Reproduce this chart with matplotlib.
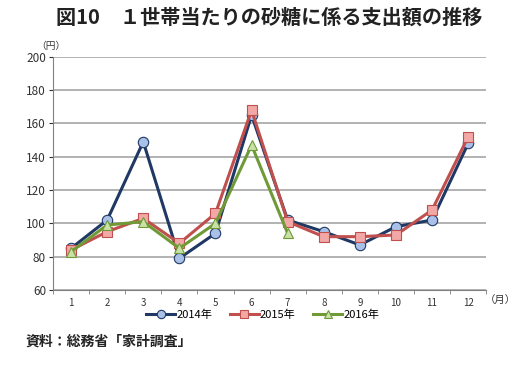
import matplotlib
matplotlib.use("Agg")
import matplotlib.pyplot as plt
from matplotlib.ticker import FixedLocator

plt.rcParams['font.family'] = ['Noto Sans CJK JP', 'DejaVu Sans']

months = [1, 2, 3, 4, 5, 6, 7, 8, 9, 10, 11, 12]
v2014 = [85, 102, 149, 79, 94, 165, 102, 95, 87, 98, 102, 148]
v2015 = [84, 95, 103, 88, 106, 168, 101, 92, 92, 93, 108, 152]
months2016 = [1, 2, 3, 4, 5, 6, 7]
v2016 = [83, 99, 101, 85, 100, 147, 94]
yticks = [60, 80, 100, 120, 140, 160, 180, 200]

fig = plt.figure(figsize=(5.2, 3.67), dpi=100)
ax = fig.add_axes([0.102, 0.21, 0.833, 0.635])

ax.plot(months, v2015, color="#C0504D", lw=2.2, marker="s", ms=7.5,
        mfc="#F2A8A6", mec="#C0504D", mew=0.8, label="2015年", zorder=3)
ax.plot(months2016, v2016, color="#6F9A36", lw=2.2, marker="^", ms=7.5,
        mfc="#C9E0A6", mec="#6F9A36", mew=0.8, label="2016年", zorder=4)
ax.plot(months, v2014, color="#1F3864", lw=2.2, marker="o", ms=7.5,
        mfc="#A9C1E8", mec="#1F3864", mew=0.8, label="2014年", zorder=2)

ax.set_xlim(0.5, 12.5)
ax.set_ylim(60, 200)
ax.set_yticks(yticks)
ax.tick_params(axis="y", labelsize=8.5, colors="#333333", length=3, pad=2)
ax.set_xticks(months)
ax.set_xticklabels([str(m) for m in months])
ax.tick_params(axis="x", which="major", length=0, labelsize=7, pad=6, colors="#333333")
ax.xaxis.set_minor_locator(FixedLocator([m + 0.5 for m in range(0, 13)]))
ax.tick_params(axis="x", which="minor", length=3, color="#808080")
ax.grid(axis="y", color="#A6A6A6", lw=1.2)
ax.set_axisbelow(True)
for s in ["top", "right"]:
    ax.spines[s].set_visible(False)
ax.spines["left"].set_color("#808080")
ax.spines["bottom"].set_color("#808080")

fig.text(0.517, 0.952, "図10　１世帯当たりの砂糖に係る支出額の推移", ha="center", va="center",
         fontsize=14.5, weight="bold", color="#222222")
fig.text(0.098, 0.874, "（円）", ha="center", va="center", fontsize=7, color="#333333")
fig.text(0.962, 0.184, "（月）", ha="center", va="center", fontsize=7.5, color="#333333")
fig.text(0.05, 0.069, "資料：総務省「家計調査」", ha="left", va="center",
         fontsize=10, weight="bold", color="#222222")

h, l = ax.get_legend_handles_labels()
order = [2, 0, 1]
fig.legend([h[i] for i in order], [l[i] for i in order], loc="center",
           bbox_to_anchor=(0.505, 0.142), ncol=3, frameon=False, fontsize=8,
           handlelength=2.6, columnspacing=1.6, handletextpad=0.1, markerscale=0.8)

fig.savefig("out.png", dpi=100)
